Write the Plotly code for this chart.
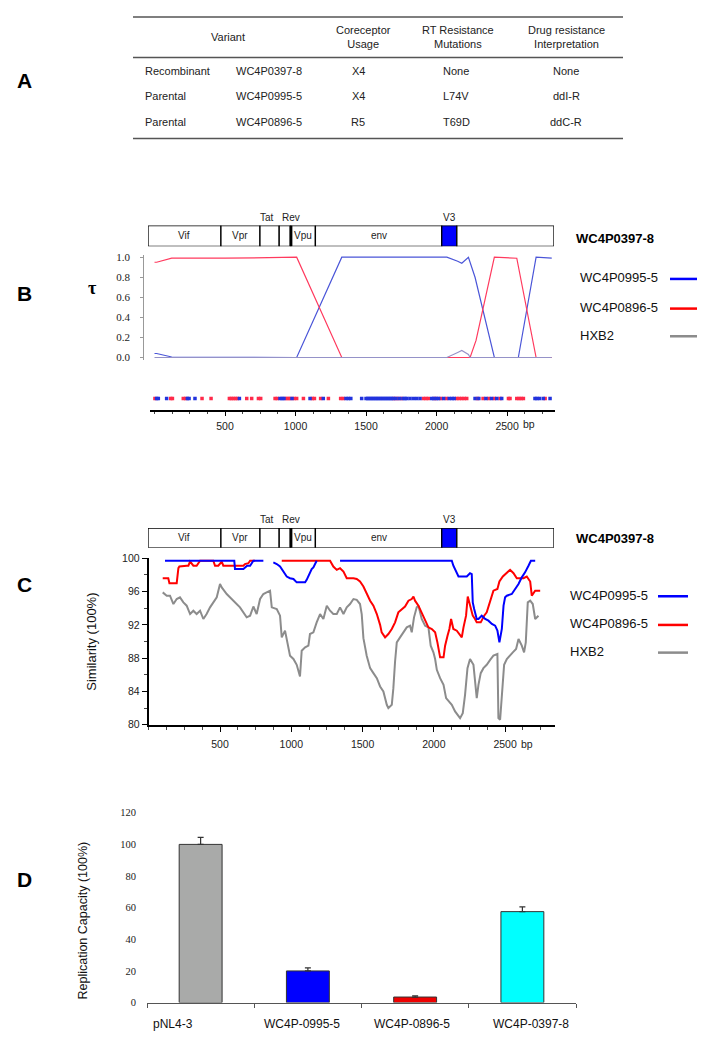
import plotly.graph_objects as go

W, H = 705, 1050
OFF = 8  # the page body has an 8px margin; coordinates below are page pixels


def fx(p):
    return (p - OFF) / W


def fy(p):
    return 1 - (p - OFF) / H


FONT = "Liberation Sans, Arial, sans-serif"
SERIF = "Liberation Serif, Times New Roman, serif"

# ---------------- Panel A: table ----------------
table_header = ["Variant", "Coreceptor<br>Usage", "RT Resistance<br>Mutations", "Drug resistance<br>Interpretation"]
variant_type = ["Recombinant", "Parental", "Parental"]
variant_name = ["WC4P0397-8", "WC4P0995-5", "WC4P0896-5"]
coreceptor = ["X4", "X4", "R5"]
rt_mutations = ["None", "L74V", "T69D"]
drug_interp = ["None", "ddI-R", "ddC-R"]

# ---------------- gene map ----------------
gene_names = ["Vif", "Vpr", "Tat", "Rev", "Vpu", "env", "V3", ""]
gene_start = [0, 512, 786, 921, 1003, 1175, 2062, 2168]
gene_end = [512, 786, 921, 1003, 1175, 2062, 2168, 2850]
gene_label_above = [False, False, True, True, False, False, True, False]
recombinant = "WC4P0397-8"

# ---------------- Panel B: tau ----------------
tau_blue_bp = [0, 15, 122, 1008, 1328, 2073, 2150, 2179, 2226, 2273, 2410, 2580, 2706, 2817]
tau_blue = [0.04, 0.04, 0.005, 0.0, 1.0, 1.0, 0.96, 0.94, 1.0, 0.8, 0.0, 0.0, 1.0, 0.99]
tau_red_bp = [0, 15, 122, 500, 1008, 1328, 2238, 2280, 2410, 2569, 2706, 2817]
tau_red = [0.95, 0.95, 0.99, 0.99, 1.0, 0.0, 0.0, 0.17, 1.0, 0.99, 0.0, 0.0]
tau_gray_bp = [0, 2073, 2150, 2179, 2226, 2238, 2817]
tau_gray = [0.0, 0.0, 0.05, 0.07, 0.03, 0.0, 0.0]

sites_red = [3, 115, 127, 204, 221, 337, 401, 531, 545, 559, 573, 587, 654, 689, 737, 753,
             855, 871, 932, 947, 961, 989, 1008, 1056, 1119, 1134, 1178, 1233, 1320, 1339,
             1700, 1724, 1750, 1907, 1925, 1942, 1990, 2030, 2070, 2143, 2160, 2178, 2196,
             2214, 2290, 2330, 2370, 2410, 2450, 2510, 2521, 2569, 2585, 2600, 2616, 2770]
sites_blue = [15, 27, 86, 233, 245, 287, 602, 890, 905, 918, 975, 1103, 1197, 1358, 1375, 1392,
              1469, 1500, 1512, 1524, 1536, 1548, 1560, 1572, 1584, 1596, 1608, 1620, 1632, 1644,
              1656, 1668, 1680, 1692, 1712, 1736, 1762, 1776, 1789, 1812, 1836, 1859, 1883, 1966,
              1980, 2000, 2015, 2050, 2090, 2110, 2125, 2273, 2300, 2350, 2390, 2427, 2462, 2698,
              2712, 2730, 2757, 2805]

# ---------------- Panel C: similarity ----------------
sim_blue_bp = [114, 600, 605, 664, 690, 711, 734, 804, None,
               874, 898, 921, 945, 968, 991, 1015, 1038, 1097, 1108, 1120, 1143, 1155, 1178, None,
               1342, 2126, 2137, 2149, 2161, 2173, 2231, 2254, 2266, 2273, 2283, 2301, 2313, 2336,
               2360, 2383, 2407, 2430, 2446, 2460, 2477, 2489, 2500, 2512, 2547, 2570, 2594, 2617,
               2640, 2664, 2681, 2711]
sim_blue = [99.7, 99.7, 98.7, 98.7, 99.1, 99.1, 99.7, 99.7, None,
            99.5, 99.3, 99.0, 98.4, 97.8, 97.6, 97.5, 97.1, 97.1, 97.4, 97.8, 98.7, 98.9, 99.7, None,
            99.7, 99.7, 99.1, 98.7, 98.2, 97.8, 97.8, 98.2, 98.1, 94.7, 93.9, 92.7, 92.7, 93.1,
            92.7, 92.5, 92.1, 91.9, 91.3, 89.9, 91.5, 94.3, 95.3, 95.5, 95.7, 96.3, 96.9, 97.7,
            98.3, 99.1, 99.7, 99.7]

sim_red_bp = [98, 137, 145, 196, 208, 215, 266, 278, 290, 313, 336, 360, 453, 465, 488, 500, 512,
              523, 664, 675, 699, 711, 746, None,
              933, 1272, 1295, 1319, 1342, 1366, 1389, 1436, 1459, 1482, 1506, 1529, 1553, 1576,
              1600, 1623, 1634, 1658, 1681, 1705, 1728, 1751, 1775, 1798, 1822, 1845, 1857, 1868,
              1892, 1915, 1939, 1962, 1986, 2009, 2025, 2044, 2068, 2079, 2096, 2109, 2121, 2137,
              2161, 2180, 2196, 2208, 2226, 2238, 2254, 2273, 2289, 2301, 2329, 2353, 2371, 2395,
              2418, 2446, 2460, 2484, 2512, 2535, 2559, 2582, 2605, 2629, 2652, 2676, 2687, 2711, 2746]
sim_red = [97.6, 97.6, 97.0, 97.0, 98.8, 99.0, 99.1, 99.1, 99.6, 99.1, 99.1, 99.7, 99.7, 99.1, 99.1, 99.4, 99.6,
           99.1, 99.1, 99.3, 99.4, 99.7, 99.7, None,
           99.7, 99.7, 99.0, 98.6, 98.8, 98.4, 97.6, 97.6, 97.5, 97.2, 96.6, 95.7, 94.9, 94.3,
           93.3, 92.0, 91.1, 90.5, 90.9, 91.5, 92.3, 93.5, 93.9, 94.2, 94.9, 95.1, 95.4, 94.9,
           94.3, 93.5, 92.7, 91.7, 91.5, 91.1, 89.9, 88.1, 88.1, 89.5, 90.7, 91.5, 92.7, 91.5,
           91.3, 90.9, 90.5, 91.7, 93.1, 95.4, 94.3, 93.1, 92.7, 92.3, 92.3, 93.1, 93.5, 94.7,
           96.1, 96.3, 97.2, 97.8, 98.2, 98.6, 98.2, 97.6, 97.6, 97.6, 97.8, 97.2, 95.5, 96.1, 96.1]

sim_gray_bp = [98, 126, 149, 173, 196, 219, 243, 266, 290, 313, 336, 360, 383, 406, 430, 453, 477,
               500, 512, 547, 594, 640, 687, 711, 734, 757, 781, 804, 827, 851, 863, 898, 921, 933,
               956, 968, 991, 1015, 1038, 1061, 1073, 1097, 1120, 1131, 1155, 1178, 1202, 1225, 1249,
               1272, 1295, 1319, 1342, 1366, 1389, 1412, 1436, 1459, 1482, 1494, 1506, 1529, 1553,
               1576, 1600, 1623, 1646, 1670, 1681, 1705, 1716, 1728, 1740, 1763, 1786, 1810, 1833,
               1845, 1861, 1880, 1892, 1915, 1939, 1962, 1978, 1997, 2009, 2021, 2044, 2068, 2086,
               2102, 2126, 2149, 2173, 2184, 2203, 2219, 2236, 2254, 2278, 2289, 2301, 2313, 2329,
               2348, 2371, 2395, 2418, 2446, 2453, 2465, 2477, 2493, 2512, 2531, 2554, 2577, 2594,
               2617, 2633, 2645, 2659, 2676, 2694, 2711, 2734]
sim_gray = [95.9, 95.5, 95.5, 94.5, 95.1, 95.3, 94.7, 94.3, 93.3, 93.7, 93.3, 93.7, 92.7, 93.3, 94.1, 94.7, 95.3,
            96.9, 96.5, 95.7, 94.9, 94.1, 92.9, 93.1, 94.2, 93.3, 95.1, 95.7, 95.9, 96.1, 94.1, 93.9, 93.1, 90.5,
            91.3, 90.3, 88.3, 87.9, 87.2, 85.8, 88.9, 89.3, 89.5, 90.9, 91.1, 92.3, 93.3, 92.7, 94.3,
            93.7, 93.3, 93.3, 94.1, 93.3, 94.1, 94.5, 95.1, 95.0, 94.5, 93.3, 90.4, 88.3, 86.8,
            86.2, 85.6, 84.6, 84.0, 82.4, 82.0, 82.4, 84.4, 87.6, 89.9, 90.5, 91.1, 91.7, 91.9,
            91.1, 92.9, 94.1, 94.3, 92.7, 91.9, 91.7, 89.5, 88.7, 87.9, 86.6, 85.6, 84.8, 83.2,
            82.9, 82.4, 81.6, 81.0, 80.8, 81.4, 83.6, 86.8, 87.9, 87.2, 84.8, 83.2, 84.8, 86.2,
            86.8, 87.2, 87.8, 88.3, 88.5, 80.8, 80.6, 83.6, 87.2, 87.9, 88.3, 88.7, 89.1, 90.3,
            89.5, 88.7, 89.9, 94.7, 94.9, 94.5, 92.7, 93.1]

legend_names = ["WC4P0995-5", "WC4P0896-5", "HXB2"]

# ---------------- Panel D: replication capacity ----------------
rc_strains = ["pNL4-3", "WC4P-0995-5", "WC4P-0896-5", "WC4P-0397-8"]
rc_values = [100, 20, 3.5, 57.5]
rc_errors = [4.5, 2, 0.8, 3]

# ---------------- styles ----------------
c_blue_b, c_red_b, c_gray_b = "#4a55d8", "#ff3a5e", "#9592c8"
c_blue, c_red, c_gray = "#0000ff", "#ff0000", "#8c8c8c"
bar_colors = ["#a9aaa9", "#0000ff", "#ee0000", "#00ffff"]
gene_fill = ["white", "white", "white", "white", "white", "white", "#0000ff", "white"]
above_label_shift = {"Tat": -3, "Rev": 6, "V3": 0}

fig = go.Figure()

# Panel B traces
fig.add_trace(go.Scatter(x=tau_blue_bp, y=tau_blue, mode="lines", line=dict(color=c_blue_b, width=1.2),
                         xaxis="x", yaxis="y", showlegend=False))
fig.add_trace(go.Scatter(x=tau_red_bp, y=tau_red, mode="lines", line=dict(color=c_red_b, width=1.2),
                         xaxis="x", yaxis="y", showlegend=False))
fig.add_trace(go.Scatter(x=tau_gray_bp, y=tau_gray, mode="lines", line=dict(color=c_gray_b, width=1.2),
                         xaxis="x", yaxis="y", showlegend=False))
fig.add_trace(go.Scatter(x=sites_red, y=["sites"] * len(sites_red), mode="markers",
                         marker=dict(symbol="square", size=3.5, color="#ff2a4a"),
                         xaxis="x", yaxis="y3", showlegend=False))
fig.add_trace(go.Scatter(x=sites_blue, y=["sites"] * len(sites_blue), mode="markers",
                         marker=dict(symbol="square", size=3.5, color="#2233dd"),
                         xaxis="x", yaxis="y3", showlegend=False))

# Panel C traces
fig.add_trace(go.Scatter(x=sim_gray_bp, y=sim_gray, mode="lines", line=dict(color=c_gray, width=2),
                         xaxis="x2", yaxis="y2", showlegend=False))
fig.add_trace(go.Scatter(x=sim_red_bp, y=sim_red, mode="lines", line=dict(color=c_red, width=2),
                         xaxis="x2", yaxis="y2", showlegend=False, connectgaps=False))
fig.add_trace(go.Scatter(x=sim_blue_bp, y=sim_blue, mode="lines", line=dict(color=c_blue, width=2),
                         xaxis="x2", yaxis="y2", showlegend=False, connectgaps=False))

# Panel D bars
fig.add_trace(go.Bar(x=rc_strains, y=rc_values, width=0.4,
                     marker=dict(color=bar_colors, line=dict(color="#333333", width=1)),
                     error_y=dict(type="data", array=rc_errors, arrayminus=[0] * len(rc_errors),
                                  symmetric=False, color="#333333", thickness=1.2, width=3),
                     xaxis="x4", yaxis="y4", showlegend=False))

bp_ticks = [500, 1000, 1500, 2000, 2500]
bp_ticktext = ["500", "1000", "1500", "2000", "2500"]
tickfont = dict(family=FONT, size=10.5, color="#222")

layout = dict(
    width=W, height=H, margin=dict(l=0, r=0, t=0, b=0),
    paper_bgcolor="white", plot_bgcolor="rgba(0,0,0,0)",
    font=dict(family=FONT, color="#222"),
    # Panel B
    xaxis=dict(domain=[fx(150), fx(555)], range=[-32, 2840], anchor="y3", showline=True,
               linecolor="black", linewidth=2, ticks="outside", ticklen=4, tickcolor="black",
               tickvals=bp_ticks, ticktext=bp_ticktext, tickfont=tickfont,
               minor=dict(tickmode="linear", tick0=0, dtick=125, ticks="outside", ticklen=2, tickcolor="#444"),
               showgrid=False, zeroline=False, ticklabelstandoff=1),
    yaxis=dict(domain=[fy(357.5), fy(252)], range=[-0.02, 1.02], anchor="free", position=fx(143.3),
               showline=True, linecolor="#999", linewidth=1, ticks="outside", ticklen=3, tickcolor="#999",
               tickvals=[0, 0.2, 0.4, 0.6, 0.8, 1.0], ticktext=["0.0", "0.2", "0.4", "0.6", "0.8", "1.0"],
               tickfont=dict(family=SERIF, size=11, color="#222"), showgrid=False, zeroline=False,
               ticklabelstandoff=8),
    yaxis3=dict(domain=[fy(409), fy(385)], anchor="x", type="category", visible=False),
    # Panel C
    xaxis2=dict(domain=[fx(148.75), fx(555)], range=[0, 2850], anchor="y2", showline=True,
                linecolor="black", linewidth=2, ticks="outside", ticklen=5, tickcolor="black",
                tickvals=bp_ticks, ticktext=bp_ticktext, tickfont=tickfont,
                minor=dict(tickmode="linear", tick0=0, dtick=125, ticks="outside", ticklen=3, tickcolor="#444"),
                showgrid=False, zeroline=False, ticklabelstandoff=4),
    yaxis2=dict(domain=[fy(727), fy(558.5)], range=[80, 100], anchor="x2", showline=True,
                linecolor="black", linewidth=2, ticks="outside", ticklen=5, tickcolor="black",
                tickvals=[80, 84, 88, 92, 96, 100], tickfont=tickfont,
                minor=dict(tickmode="linear", tick0=80, dtick=2, ticks="outside", ticklen=3, tickcolor="#444"),
                showgrid=False, zeroline=False),
    # Panel D
    xaxis4=dict(domain=[fx(147), fx(576)], anchor="y4", type="category", showline=True,
                linecolor="#555", linewidth=1, ticks="outside", tickson="boundaries", ticklen=4,
                tickcolor="#555", showticklabels=False, showgrid=False, zeroline=False),
    yaxis4=dict(domain=[fy(1008), fy(816)], range=[0, 120], anchor="x4", showline=False,
                tickvals=[0, 20, 40, 60, 80, 100, 120], tickfont=dict(family=SERIF, size=10.5, color="#222"),
                showgrid=False, zeroline=False, ticklabelstandoff=10),
    # gene maps
    xaxis5=dict(domain=[fx(148), fx(554)], range=[0, 2850], anchor="y5", visible=False),
    yaxis5=dict(domain=[fy(243), fy(222)], range=[0, 1], anchor="x5", visible=False),
    xaxis6=dict(domain=[fx(148), fx(554)], range=[0, 2850], anchor="y6", visible=False),
    yaxis6=dict(domain=[fy(548), fy(528)], range=[0, 1], anchor="x6", visible=False),
)
fig.update_layout(**layout)

shapes = []
ann = []

# ---- Panel A table ----
for yy in [11, 52, 134]:
    shapes.append(dict(type="line", xref="paper", yref="paper", x0=fx(133), x1=fx(623),
                       y0=fy(yy), y1=fy(yy), line=dict(color="#555", width=1.5)))

tf = dict(family=FONT, size=11, color="#222")
hdr_x = [228, 364, 458, 566]
val_x = [358, 456, 566]
for hx, htxt in zip(hdr_x, table_header):
    ann.append(dict(x=fx(hx), y=fy(31), xref="paper", yref="paper", text=htxt, showarrow=False,
                    xanchor="center", yanchor="middle", font=tf, align="center"))
row_y = [66, 91, 117]
for i in range(len(variant_name)):
    ann.append(dict(x=fx(143), y=fy(row_y[i]), xref="paper", yref="paper", text=variant_type[i],
                    showarrow=False, xanchor="left", yanchor="middle", font=tf))
    ann.append(dict(x=fx(234), y=fy(row_y[i]), xref="paper", yref="paper", text=variant_name[i],
                    showarrow=False, xanchor="left", yanchor="middle", font=tf))
    for cx, col in zip(val_x, [coreceptor, rt_mutations, drug_interp]):
        ann.append(dict(x=fx(cx), y=fy(row_y[i]), xref="paper", yref="paper", text=col[i],
                        showarrow=False, xanchor="center", yanchor="middle", font=tf))

# ---- panel letters ----
for letter, ly in [("A", 75), ("B", 291), ("C", 585), ("D", 883)]:
    ann.append(dict(x=fx(24), y=fy(ly), xref="paper", yref="paper", text="<b>%s</b>" % letter,
                    showarrow=False, xanchor="center", yanchor="middle",
                    font=dict(family=FONT, size=21, color="black")))

# ---- gene maps ----
for xr, yr, title_y in [("x5", "y5", 235), ("x6", "y6", 539)]:
    for i in range(len(gene_names)):
        shapes.append(dict(type="rect", xref=xr, yref=yr, x0=gene_start[i], x1=gene_end[i], y0=0, y1=1,
                           line=dict(color="black", width=1.3), fillcolor=gene_fill[i], layer="above"))
        if gene_names[i]:
            mid = (gene_start[i] + gene_end[i]) / 2
            if gene_label_above[i]:
                ann.append(dict(x=mid, y=1, xref=xr, yref=yr, text=gene_names[i], showarrow=False,
                                xanchor="center", yanchor="bottom", yshift=1,
                                xshift=above_label_shift.get(gene_names[i], 0),
                                font=dict(family=FONT, size=10, color="#222")))
            else:
                ann.append(dict(x=mid, y=0.5, xref=xr, yref=yr, text=gene_names[i], showarrow=False,
                                xanchor="center", yanchor="middle",
                                font=dict(family=FONT, size=10, color="#222")))
    # thick boundary before Vpu
    shapes.append(dict(type="line", xref=xr, yref=yr, x0=gene_start[4], x1=gene_start[4], y0=0, y1=1,
                       line=dict(color="black", width=3)))
    ann.append(dict(x=fx(574), y=fy(title_y), xref="paper", yref="paper", text="<b>%s</b>" % recombinant,
                    showarrow=False, xanchor="left", yanchor="middle",
                    font=dict(family=FONT, size=13, color="black")))

# ---- custom legends ----
leg_colors = [c_blue, c_red, c_gray]
for ys, tx, lx0, lx1 in [([275, 305, 333], 578, 670, 698), ([596, 625, 653], 568, 658, 688)]:
    for name, col, yy in zip(legend_names, leg_colors, ys):
        ann.append(dict(x=fx(tx), y=fy(yy), xref="paper", yref="paper", text=name, showarrow=False,
                        xanchor="left", yanchor="middle", font=dict(family=FONT, size=13, color="#111")))
        shapes.append(dict(type="line", xref="paper", yref="paper", x0=fx(lx0), x1=fx(lx1),
                           y0=fy(yy + 1), y1=fy(yy + 1), line=dict(color=col, width=2.5)))

# "bp" unit after last tick
for xr, yy in [("x", 423), ("x2", 746)]:
    ann.append(dict(x=2500, y=fy(yy), xref=xr, yref="paper", text="bp", showarrow=False,
                    xanchor="left", yanchor="middle", xshift=14, font=tickfont))

# axis titles
ann.append(dict(x=fx(92), y=fy(285), xref="paper", yref="paper", text="<b>τ</b>", showarrow=False,
                xanchor="center", yanchor="middle", font=dict(family=SERIF, size=18, color="black")))
ann.append(dict(x=fx(92), y=fy(643), xref="paper", yref="paper", text="Similarity (100%)", showarrow=False,
                textangle=-90, xanchor="center", yanchor="middle", font=dict(family=FONT, size=13, color="#111")))
ann.append(dict(x=fx(83), y=fy(925), xref="paper", yref="paper", text="Replication Capacity (100%)",
                showarrow=False, textangle=-90, xanchor="center", yanchor="middle",
                font=dict(family=FONT, size=12.5, color="#111")))

# panel D category labels
label_shift = [-28, -6, -3, 9]
for name, sh in zip(rc_strains, label_shift):
    ann.append(dict(x=name, y=fy(1030), xref="x4", yref="paper", text=name, showarrow=False,
                    xanchor="center", yanchor="middle", xshift=sh,
                    font=dict(family=FONT, size=12, color="#111")))

fig.update_layout(shapes=shapes, annotations=ann)
fig.write_html("out.html")
